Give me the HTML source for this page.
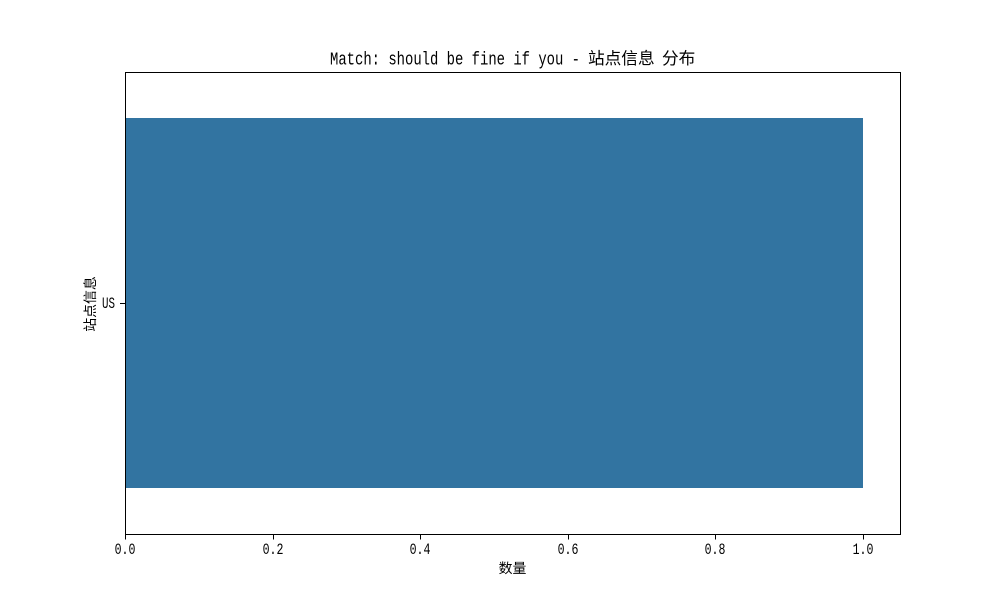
<!DOCTYPE html>
<html>
<head>
<meta charset="utf-8">
<style>
html,body{margin:0;padding:0;background:#fff;width:1000px;height:600px;overflow:hidden}
svg{display:block}
.mono{font-family:"Liberation Mono",monospace}
.cjk{font-family:"Liberation Sans","WenQuanYi Zen Hei","Noto Sans CJK SC",sans-serif}
</style>
</head>
<body>
<svg id="chart" xmlns="http://www.w3.org/2000/svg" width="1000" height="600" viewBox="0 0 1000 600">
  <text class="mono" x="330" y="64.5" font-size="18.5" fill="#000" textLength="250" lengthAdjust="spacingAndGlyphs">Match: should be fine if you -</text>
  <text class="cjk" x="588" y="64" font-size="16.67" fill="#000">站点信息</text>
  <text class="cjk" x="662" y="64" font-size="16.67" fill="#000">分布</text>
  <text class="cjk" x="512.5" y="573" font-size="13.9" fill="#000" text-anchor="middle">数量</text>
  <text class="cjk" transform="translate(95,304) rotate(-90)" font-size="13.9" fill="#000" text-anchor="middle">站点信息</text>
  <g id="bars"></g>
  <g id="axes"></g>
</svg>
<script>
const categories = ['US'];
const counts = [1];
const xTicks = [0, 0.2, 0.4, 0.6, 0.8, 1.0];
const xTickLabels = ['0.0', '0.2', '0.4', '0.6', '0.8', '1.0'];
const xMax = 1.05;

const NS = 'http://www.w3.org/2000/svg';
const plot = {left: 125, right: 900, top: 72, bottom: 534};
const barsGroup = document.getElementById('bars');
const axesGroup = document.getElementById('axes');

function xScale(v) { return plot.left + (v / xMax) * (plot.right - plot.left); }
function bandHeight() { return (plot.bottom - plot.top) / categories.length; }
function yCenter(i) { return plot.top + bandHeight() * (i + 0.5); }
function snap(v) { return Math.round(v) + 0.5; }

function make(tag, attrs, parent) {
  const el = document.createElementNS(NS, tag);
  for (const k in attrs) el.setAttribute(k, attrs[k]);
  parent.appendChild(el);
  return el;
}

categories.forEach(function (cat, i) {
  const h = bandHeight() * 0.8;
  const bar = make('rect', {
    x: plot.left,
    y: yCenter(i) - h / 2,
    width: xScale(counts[i]) - plot.left,
    height: h,
    fill: '#3274a1',
    'shape-rendering': 'crispEdges'
  }, barsGroup);
  
  

  const tick = make('line', {
    x1: plot.left - 5, x2: plot.left,
    y1: snap(yCenter(i)), y2: snap(yCenter(i)),
    stroke: '#000', 'stroke-width': 1,
    'shape-rendering': 'crispEdges'
  }, axesGroup);
  
  

  const label = make('text', {
    x: 102, y: yCenter(i) + 5,
    'font-size': 15.5, fill: '#000',
    textLength: 13, lengthAdjust: 'spacingAndGlyphs',
    'class': 'mono'
  }, axesGroup);
  label.textContent = cat;
  
  
});

xTicks.forEach(function (v, i) {
  const x = snap(xScale(v));
  const tick = make('line', {
    x1: x, x2: x,
    y1: plot.bottom, y2: plot.bottom + 5.5,
    stroke: '#000', 'stroke-width': 1,
    'shape-rendering': 'crispEdges'
  }, axesGroup);
  
  

  const label = make('text', {
    x: x - 10.9, y: 554,
    'font-size': 15.5, fill: '#000',
    textLength: 20.85, lengthAdjust: 'spacingAndGlyphs',
    'class': 'mono'
  }, axesGroup);
  label.textContent = xTickLabels[i];
  
  
});

const frame = make('rect', {
  x: plot.left + 0.5,
  y: plot.top + 0.5,
  width: plot.right - plot.left,
  height: plot.bottom - plot.top,
  fill: 'none',
  stroke: '#000',
  'stroke-width': 1,
  'shape-rendering': 'crispEdges'
}, axesGroup);


</script>
</body>
</html>
